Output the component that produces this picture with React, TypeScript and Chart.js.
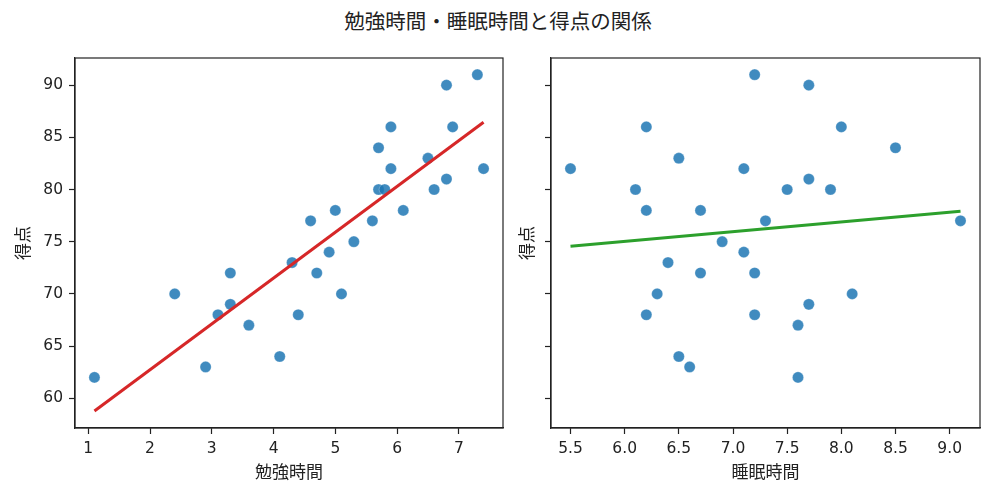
import React, { useEffect, useRef } from "react";
import { Chart, registerables } from "chart.js";

Chart.register(...registerables);

// data
const studyHours = [1.1, 2.4, 2.9, 3.1, 3.3, 3.3, 3.6, 4.1, 4.3, 4.4, 4.6, 4.7, 4.9, 5.0, 5.1, 5.3, 5.6, 5.7, 5.7, 5.8, 5.9, 5.9, 6.1, 6.5, 6.6, 6.8, 6.8, 6.9, 7.3, 7.4];
const studyScores = [62, 70, 63, 68, 72, 69, 67, 64, 73, 68, 77, 72, 74, 78, 70, 75, 77, 84, 80, 80, 86, 82, 78, 83, 80, 90, 81, 86, 91, 82];
const sleepHours = [5.5, 6.1, 6.2, 6.2, 6.2, 6.3, 6.4, 6.5, 6.5, 6.6, 6.7, 6.7, 6.9, 7.1, 7.1, 7.2, 7.2, 7.2, 7.3, 7.5, 7.6, 7.6, 7.7, 7.7, 7.7, 7.9, 8.0, 8.1, 8.5, 9.1];
const sleepScores = [82, 80, 86, 78, 68, 70, 73, 83, 64, 63, 78, 72, 75, 82, 74, 91, 72, 68, 77, 80, 67, 62, 90, 81, 69, 80, 86, 70, 84, 77];

const scoreTicks = [60, 65, 70, 75, 80, 85, 90];
const studyTicks = [1, 2, 3, 4, 5, 6, 7];
const sleepTicks = [5.5, 6.0, 6.5, 7.0, 7.5, 8.0, 8.5, 9.0];

const TITLE = "勉強時間・睡眠時間と得点の関係";
const FONT = '"Noto Sans CJK JP", "Noto Sans", sans-serif';
const TICK_FONT = '"DejaVu Sans", sans-serif';
const INK = "#222";

Chart.defaults.font.family = FONT;
Chart.defaults.color = INK;

// least squares fit, drawn between min and max x
function fitLine(xs: number[], ys: number[]) {
  const n = xs.length;
  const mx = xs.reduce((a, b) => a + b, 0) / n;
  const my = ys.reduce((a, b) => a + b, 0) / n;
  let sxy = 0;
  let sxx = 0;
  for (let i = 0; i < n; i++) {
    sxy += (xs[i] - mx) * (ys[i] - my);
    sxx += (xs[i] - mx) * (xs[i] - mx);
  }
  const slope = sxy / sxx;
  const b = my - slope * mx;
  const x0 = Math.min(...xs);
  const x1 = Math.max(...xs);
  return [
    { x: x0, y: slope * x0 + b },
    { x: x1, y: slope * x1 + b },
  ];
}

// matplotlib-like frame on all four sides
const framePlugin = {
  id: "frame",
  afterDraw(chart: Chart) {
    const { ctx, chartArea } = chart;
    ctx.save();
    ctx.strokeStyle = INK;
    ctx.lineWidth = 1.2;
    ctx.strokeRect(chartArea.left, chartArea.top, chartArea.right - chartArea.left, chartArea.bottom - chartArea.top);
    ctx.restore();
  },
};

interface PanelProps {
  xs: number[];
  ys: number[];
  xTitle: string;
  xTicks: number[];
  xMin: number;
  xMax: number;
  decimals: number;
  lineColor: string;
  showYLabels: boolean;
  yAxisWidth: number;
  yTitlePad: number;
  padRight: number;
  width: number;
  left: number;
}

function ScatterPanel(props: PanelProps) {
  const chartRef = useRef<HTMLCanvasElement | null>(null);
  const chartInstanceRef = useRef<Chart | null>(null);

  useEffect(() => {
    if (!chartRef.current) return;
    if (chartInstanceRef.current) chartInstanceRef.current.destroy();

    const points = props.xs.map((x, i) => ({ x, y: props.ys[i] }));

    chartInstanceRef.current = new Chart(chartRef.current, {
      type: "scatter",
      data: {
        datasets: [
          {
            type: "line",
            data: fitLine(props.xs, props.ys),
            borderColor: props.lineColor,
            borderWidth: 3,
            pointRadius: 0,
            fill: false,
            order: 0,
          },
          {
            data: points,
            backgroundColor: "rgba(31, 119, 180, 0.85)",
            borderColor: "rgba(255, 255, 255, 0.5)",
            borderWidth: 0.5,
            pointRadius: 5.6,
            order: 1,
          },
        ] as any,
      },
      options: {
        responsive: false,
        animation: false,
        layout: { padding: { top: 58, right: props.padRight, bottom: 0, left: 0 } },
        plugins: {
          legend: { display: false },
          tooltip: { enabled: false },
        },
        scales: {
          x: {
            type: "linear",
            min: props.xMin,
            max: props.xMax,
            afterBuildTicks: (scale: any) => {
              scale.ticks = props.xTicks.map((v) => ({ value: v }));
            },
            afterFit: (scale: any) => {
              scale.height = 64;
            },
            ticks: {
              autoSkip: false,
              maxRotation: 0,
              padding: 6,
              color: INK,
              font: { size: 15.5, family: TICK_FONT },
              callback: (v: any) => Number(v).toFixed(props.decimals),
            },
            grid: { drawOnChartArea: false, drawTicks: true, tickLength: 6, tickColor: INK, tickWidth: 1.2 },
            border: { display: true, color: INK, width: 1.2 },
            title: { display: true, text: props.xTitle, color: INK, font: { size: 17 }, padding: { top: 0, bottom: 10 } },
          },
          y: {
            type: "linear",
            min: 57.15,
            max: 92.6,
            afterBuildTicks: (scale: any) => {
              scale.ticks = scoreTicks.map((v) => ({ value: v }));
            },
            afterFit: (scale: any) => {
              scale.width = props.yAxisWidth;
            },
            ticks: {
              display: props.showYLabels,
              padding: 6,
              color: INK,
              font: { size: 15.5, family: TICK_FONT },
            },
            grid: { drawOnChartArea: false, drawTicks: true, tickLength: 6, tickColor: INK, tickWidth: 1.2 },
            border: { display: true, color: INK, width: 1.2 },
            title: { display: true, text: "得点", color: INK, font: { size: 17 }, padding: { top: props.yTitlePad, bottom: 0 } },
          },
        },
      },
      plugins: [framePlugin],
    });

    return () => {
      if (chartInstanceRef.current) {
        chartInstanceRef.current.destroy();
        chartInstanceRef.current = null;
      }
    };
  }, [props]);

  return (
    <canvas
      ref={chartRef}
      width={props.width}
      height={492}
      style={{ position: "absolute", left: props.left, top: 0, width: props.width, height: 492 }}
    />
  );
}

export default function App() {
  return (
    <div style={{ position: "absolute", left: 0, top: 0, width: 996, height: 492, background: "#fff", overflow: "hidden" }}>
      <div
        style={{
          position: "absolute",
          left: 0,
          top: 8,
          width: 996,
          textAlign: "center",
          fontFamily: FONT,
          fontSize: 20.5,
          lineHeight: "24px",
          color: INK,
        }}
      >
        {TITLE}
      </div>
      <ScatterPanel
        xs={studyHours}
        ys={studyScores}
        xTitle="勉強時間"
        xTicks={studyTicks}
        xMin={0.785}
        xMax={7.715}
        decimals={0}
        lineColor="#d62728"
        showYLabels={true}
        yAxisWidth={75}
        yTitlePad={12}
        padRight={7}
        width={510}
        left={0}
      />
      <ScatterPanel
        xs={sleepHours}
        ys={sleepScores}
        xTitle="睡眠時間"
        xTicks={sleepTicks}
        xMin={5.32}
        xMax={9.28}
        decimals={1}
        lineColor="#2ca02c"
        showYLabels={false}
        yAxisWidth={51}
        yTitlePad={16}
        padRight={16}
        width={496}
        left={500}
      />
    </div>
  );
}
